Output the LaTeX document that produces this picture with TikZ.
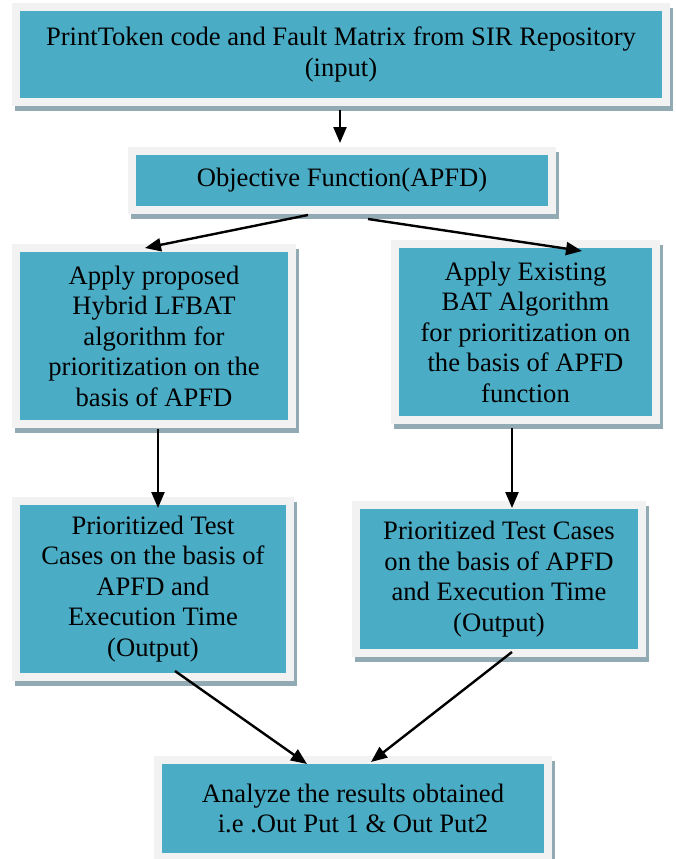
\documentclass[tikz,border=0pt]{standalone}
\usepackage{fontspec}
\setmainfont{Liberation Serif}
\usetikzlibrary{arrows.meta}
\definecolor{tealc}{HTML}{4BACC6}
\definecolor{framegray}{HTML}{F2F2F2}
\definecolor{shadowc}{HTML}{91AAB4}
\newcommand\boxfont{\fontsize{26.6}{30.5}\selectfont}
\tikzset{
  box/.style={rectangle, fill=tealc, draw=framegray, line width=8pt, inner sep=0pt,
    align=center, font=\boxfont, text=black,
    preaction={draw=shadowc, fill=shadowc, line width=8pt, transform canvas={shift={(3pt,-5pt)}}}},
  arr/.style={draw=black, line width=2.4pt, -{Triangle[length=16pt,width=13pt]}}
}
\begin{document}
\begin{tikzpicture}
\useasboundingbox (0,0) rectangle (675pt,-859pt);
\node[box, minimum width=650pt, minimum height=95pt] (b1) at (341pt,-54.5pt)
  {PrintToken code and Fault Matrix from SIR Repository\\(input)};
\node[box, minimum width=420pt, minimum height=59pt] (b2) at (342pt,-180.5pt)
  {Objective Function(APFD)};
\node[box, minimum width=276pt, minimum height=176pt] (b3) at (154pt,-336pt)
  {Apply proposed\\Hybrid LFBAT\\algorithm for\\prioritization on the\\basis of APFD};
\node[box, minimum width=261pt, minimum height=176pt] (b4) at (525.5pt,-332pt)
  {Apply Existing\\BAT Algorithm\\for prioritization on\\the basis of APFD\\function};
\node[box, minimum width=274pt, minimum height=176pt] (b5) at (153pt,-589pt)
  {Prioritized Test\\Cases on the basis of\\APFD and\\Execution Time\\(Output)};
\node[box, minimum width=286pt, minimum height=148pt] (b6) at (499pt,-579pt)
  {Prioritized Test Cases\\on the basis of APFD\\and Execution Time\\(Output)};
\node[box, minimum width=390pt, minimum height=97pt] (b7) at (353pt,-808.5pt)
  {Analyze the results obtained\\i.e .Out Put 1 \& Out Put2};
\draw[arr] ([xshift=-1pt,yshift=-4pt]b1.south) -- ([xshift=-2pt,yshift=4pt]b2.north);
\draw[arr] ([xshift=-34pt,yshift=-1pt]b2.south) -- ([xshift=-9pt,yshift=-4pt]b3.north);
\draw[arr] ([xshift=26pt,yshift=-5pt]b2.south) -- ([xshift=56.5pt,yshift=-11pt]b4.north);
\draw[arr] ([xshift=4pt,yshift=-1pt]b3.south) -- ([xshift=5pt,yshift=-11pt]b5.north);
\draw[arr] ([xshift=-13.5pt,yshift=-4pt]b4.south) -- ([xshift=13pt,yshift=-7pt]b6.north);
\draw[arr] ([xshift=22pt,yshift=10pt]b5.south) -- ([xshift=-46pt,yshift=-8pt]b7.north);
\draw[arr] ([xshift=13pt,yshift=5pt]b6.south) -- ([xshift=18pt,yshift=-6pt]b7.north);
\end{tikzpicture}
\end{document}
